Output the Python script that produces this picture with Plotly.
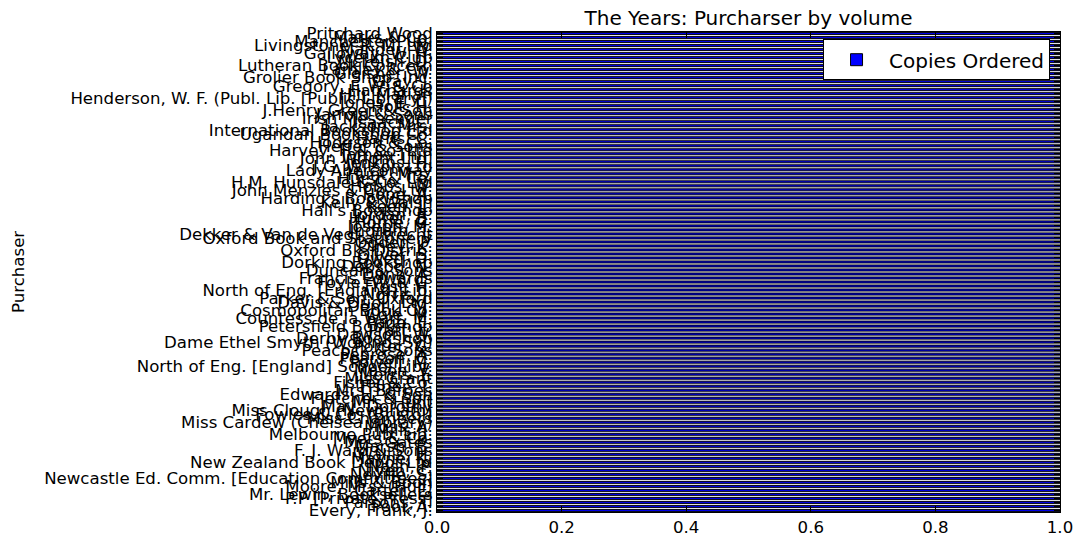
import plotly.graph_objects as go

# Purchasers listed top-to-bottom as they appear in the chart
purchasers_top_down = [
    "Pritchard Wood", "Marks & Co.", "Manchester Pub.", "Livingstone, R. M. Ltd", "Mander, W.",
    "Galloway, W. H.", "Lyceum Club", "McLeish, D.", "Lutheran Book Concern", "Lamley & Co.",
    "Glaisher, W.", "Grolier Book Shop, Inc.", "Gray, J.", "Gregory, F. W. & Co", "Hatchards",
    "Hill, Marian", "Henderson, W. F. (Publ. Lib. [Public Library])", "Jones, E. C.", "Holt, H.", "J.Henry Green & Son",
    "Jarrold & Sons", "Irish Messenger", "Isaacs, C.", "Jackson, Mrs.", "International Bookshop Ltd",
    "Ugandan Bookshop Co.", "Harris, C.", "Hodgson & Co.", "Heffer & Sons", "Harvey, F. & Co. Ltd",
    "James Thin", "John Wright Ltd.", "Jenkins, H.", "J.G. Wilson Ltd", "Lady Aberconway",
    "Hunt, Mrs.", "Hurst & Co.", "H.M. Hunsdale & Co. Ltd", "Hobbs, W.", "John Menzies & Co., Ltd.",
    "Hope, A.", "Harding's Book Shop", "Kelly & Walsh", "Keen, L.", "Hall's Bookshop",
    "Jordan, R.", "Hunter, B.", "Horne, G.", "Joseph, M.", "Ingram, T.",
    "Dekker & Van de Vegt, Utrecht", "Oxford Book and Stationery", "Ogden, P.", "Olney, K.", "Oxford Bk. Distrib.",
    "Oliver, S.", "Owen, D.", "Dorking Bookshop", "Dobson, N.", "Duncan & Sons",
    "Dunn, A.", "Francis Edwards", "Foyle, W. & G.", "Frost, H.", "North of Eng. [England] Lib.",
    "Norris, J.", "Parker & Son, Oxford", "Davis & Orioli, Ltd.", "Dent, J. M.", "Cosmopolitan Book Co.",
    "Cole, M.", "Countess de la Warr, M.", "Page, E.", "Petersfield Bookshop", "Pratt, L.",
    "Dawson, W.", "Derby Bookshop", "Dame Ethel Smyth (Woking, Sy.)", "Porter, G.", "Peacock & Sons",
    "Penrose, A.", "Pearson, C.", "Powell, M.", "North of Eng. [England] School Libr.", "Mason, V.",
    "Morris, F.", "Miss Grant", "Fisher & Co.", "Fisher, T.", "Mrs. Barnes",
    "Edwards, H. & Son", "Fletcher & Son", "Mrs. Hunt", "May, Dorothy", "Miss Clough (Newnham)",
    "Fowles & Co. (Bristol)", "Miss Chambers", "Miss Cardew (Chelsea Library)", "Moss, A.", "Mills, J.",
    "Melbourne Pub. Lib.", "Myers & Co.", "Mrs. Gates", "Marsh, B.", "F. J. Ward & Sons",
    "Wallis, H.", "Mayne, K.", "New Zealand Book Depot Ltd", "Nash, P.", "Niven, C.",
    "Neville, S.", "Newcastle Ed. Comm. [Education Committees]", "Mills & Boon", "Moore, Mrs. (Hull)", "Carter, E.",
    "Mr. Lewin, Booksellers", "P.P [Private Press]", "Parsons, T.", "Pool, A.", "Every, Frank, J.",
]

copies_top_down = [
    60, 52, 48, 45, 44, 40, 38, 36, 35, 34,
    33, 32, 30, 30, 29, 28, 27, 26, 26, 25,
    25, 24, 24, 23, 22, 22, 21, 21, 20, 20,
    19, 19, 18, 18, 17, 17, 16, 16, 15, 15,
    14, 14, 14, 13, 13, 13, 12, 12, 12, 11,
    11, 11, 10, 10, 10, 10, 9, 9, 9, 9,
    8, 8, 8, 8, 7, 7, 7, 7, 6, 6,
    6, 6, 6, 5, 5, 5, 5, 5, 4, 4,
    4, 4, 4, 4, 3, 3, 3, 3, 3, 3,
    3, 3, 3, 3, 3, 3, 2, 2, 2, 2,
    2, 2, 2, 2, 2, 2, 2, 2, 2, 2,
    2, 2, 2, 2, 2, 2, 2, 2, 2, 2,
]

x_ticks = [0.0, 0.2, 0.4, 0.6, 0.8, 1.0]

purchasers = purchasers_top_down[::-1]
copies = copies_top_down[::-1]
N = len(purchasers)

FONT = "DejaVu Sans"
TICK = 16.6
BIG = 20

fig = go.Figure()
fig.add_trace(go.Bar(
    x=copies, y=purchasers, orientation="h", name="Copies Ordered",
    marker=dict(color="#0000ff", line=dict(color="black", width=1)),
    showlegend=True,
))

fig.update_layout(
    width=1081, height=545,
    margin=dict(l=437, r=21, t=32, b=33, pad=0),
    paper_bgcolor="white", plot_bgcolor="white",
    bargap=0.5,
    font=dict(family=FONT, size=TICK, color="black"),
    title=dict(text="The Years: Purcharser by volume", x=0.5, xref="paper",
               xanchor="center", y=1 - 18 / 545, yref="container", yanchor="middle",
               font=dict(family=FONT, size=BIG, color="black")),
    legend=dict(x=0.984, y=0.985, xanchor="right", yanchor="top",
                bordercolor="black", borderwidth=1, bgcolor="white",
                itemwidth=55,
                font=dict(family=FONT, size=BIG, color="black")),
    xaxis=dict(range=[0, 1], tickmode="array", tickvals=x_ticks,
               ticktext=[f"{v:.1f}" for v in x_ticks],
               ticks="inside", ticklen=6, tickcolor="black", mirror="allticks",
               showline=True, linecolor="black", linewidth=1, showgrid=False,
               zeroline=False, automargin=False,
               tickfont=dict(family=FONT, size=TICK, color="black")),
    yaxis=dict(type="category", range=[-0.4, N - 0.6], tickmode="array",
               tickvals=purchasers, ticktext=purchasers,
               ticks="inside", ticklen=6, tickcolor="black", mirror="allticks",
               showline=True, linecolor="black", linewidth=1, showgrid=False,
               zeroline=False, automargin=False,
               tickfont=dict(family=FONT, size=TICK, color="black")),
    annotations=[dict(text="Purchaser", xref="paper", yref="paper",
                      x=(18 - 437) / 623, y=0.5, xanchor="center", yanchor="middle",
                      textangle=-90, showarrow=False,
                      font=dict(family=FONT, size=TICK, color="black"))],
)

fig.write_html("out.html")
